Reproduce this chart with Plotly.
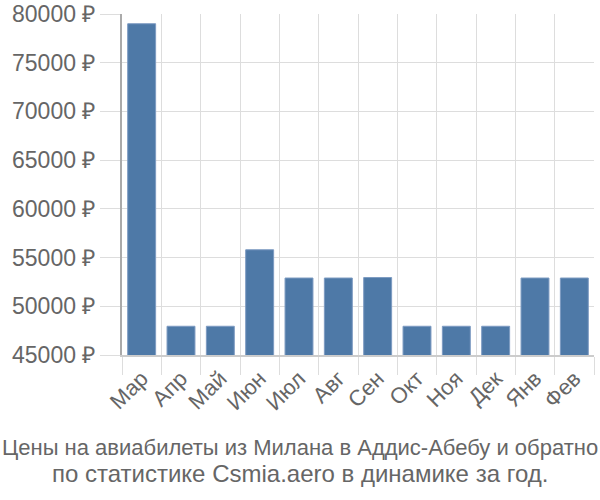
import plotly.graph_objects as go

months = ["Мар", "Апр", "Май", "Июн", "Июл", "Авг", "Сен", "Окт", "Ноя", "Дек", "Янв", "Фев"]
prices = [79000, 47950, 47950, 55800, 52900, 52900, 52950, 47950, 47950, 47950, 52900, 52900]
y_ticks = [45000, 50000, 55000, 60000, 65000, 70000, 75000, 80000]
title_lines = ["Цены на авиабилеты из Милана в Аддис-Абебу и обратно",
               "по статистике Csmia.aero в динамике за год."]

fig = go.Figure(go.Bar(
    x=months, y=prices,
    marker=dict(color="#4e79a7", line=dict(color="#7d9bc2", width=1)),
))

font = "Liberation Sans, Arial, sans-serif"
fig.update_layout(
    width=600, height=500,
    margin=dict(l=122, r=6, t=14, b=145),
    plot_bgcolor="white", paper_bgcolor="white",
    bargap=0.29,
    showlegend=False,
    font=dict(family=font, color="#666666"),
)
fig.update_yaxes(
    range=[45000, 80000],
    automargin=False,
    tickvals=y_ticks,
    ticktext=[f"{v} ₽" for v in y_ticks],
    tickfont=dict(size=23, color="#666666"),
    showgrid=True, gridcolor="#dddddd", gridwidth=1,
    ticks="outside", ticklen=20, tickcolor="#dddddd",
    showline=True, linecolor="#aaaaaa", linewidth=2,
    zeroline=False,
)
fig.update_xaxes(
    automargin=False,
    tickson="boundaries",
    tickangle=-45,
    tickfont=dict(size=22, color="#666666"),
    showgrid=True, gridcolor="#dddddd", gridwidth=1,
    ticks="outside", ticklen=18, tickcolor="#dddddd",
    showline=True, linecolor="#cccccc", linewidth=2,
)
plot_h = 341
plot_w = 472
for line, yc, fs in zip(title_lines, [447, 473], [22, 24]):
    fig.add_annotation(
        text=line, xref="paper", yref="paper",
        x=(300 - 122) / plot_w, xanchor="center",
        y=-(yc - 355) / plot_h, yanchor="middle",
        showarrow=False,
        font=dict(size=fs, color="#666666", family=font),
    )

fig.write_html("out.html")
